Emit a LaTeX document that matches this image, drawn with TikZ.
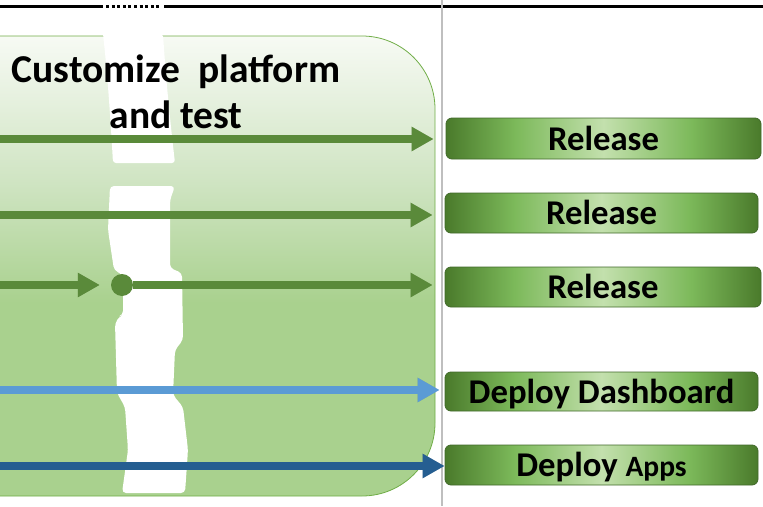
\documentclass[tikz,border=0pt]{standalone}
\usepackage{fontspec}
\setmainfont{Carlito}
\usetikzlibrary{arrows.meta}
\definecolor{boxB}{HTML}{A9D18E}
\definecolor{boxM}{HTML}{CFE4C2}
\definecolor{boxT}{HTML}{F7FAF4}
\definecolor{boxline}{HTML}{70AD47}
\definecolor{argreen}{HTML}{5A8A3A}
\definecolor{arlblue}{HTML}{5B9BD5}
\definecolor{ardblue}{HTML}{255E91}
\definecolor{reldk}{HTML}{4A7A2B}
\definecolor{relmd}{HTML}{7CB95A}
\definecolor{rellt}{HTML}{C3E0AD}
\definecolor{relline}{HTML}{41692A}
\pgfdeclareverticalshading{boxshade}{100bp}{color(0bp)=(boxB); color(46bp)=(boxB); color(59bp)=(boxM); color(75bp)=(boxT); color(100bp)=(boxT)}
\pgfdeclarehorizontalshading{relshade}{100bp}{color(0bp)=(reldk); color(25bp)=(reldk); color(36bp)=(relmd); color(50bp)=(rellt); color(64bp)=(relmd); color(75bp)=(reldk); color(100bp)=(reldk)}
\tikzset{
  relbox/.style={draw=relline, line width=0.8pt, rounded corners=6pt, shading=relshade,
    inner sep=0pt, font=\bfseries\fontsize{34.7}{40}\selectfont, text height=23pt, text depth=0pt},
  arrowline/.style={line width=8pt, -{Triangle[length=22pt,width=23pt]}},
  arrshadow/.style={line width=8pt, draw=black, opacity=0.12, -{Triangle[length=22pt,width=23pt]}}
}
\begin{document}
\begin{tikzpicture}[x=1pt,y=-1pt]
\useasboundingbox (0,0) rectangle (763,506);
% phase box
\path[draw=boxline, line width=0.8pt, shading=boxshade, rounded corners=73pt] (-150,36) rectangle (435,496);
% torn white stripe
\fill[white, rounded corners=3pt] (103,34) -- (163,34) .. controls (166,80) and (170,120) .. (175,163) -- (113,163) .. controls (110,110) and (107,70) .. (103,34) -- cycle;
\fill[white, rounded corners=4pt] (110,186) -- (175,186) -- (170,200) -- (170,268) -- (182,273) -- (183,340) -- (175,350) -- (173,395) -- (183,407) -- (188,450) -- (185,493) -- (122,493) -- (128,450) -- (125,407) -- (117,393) -- (115,323) -- (120,316) -- (123,315) -- (123,275) -- (114,270) -- (108,230) -- cycle;
% title
\node[font=\bfseries\fontsize{39.5}{46.5}\selectfont, align=center] (title) at (176,92) {Customize\ \ platform\\and test};
% top line and divider
\draw[line width=3pt] (0,6) -- (103,6);
\draw[line width=3pt, dash pattern=on 3pt off 2.6pt] (106,6) -- (161,6);
\draw[line width=3pt] (164,6) -- (763,6);
\draw[line width=2.5pt, black!25] (442,0) -- (442,506);
% boxes
\node[relbox, minimum width=315pt, minimum height=41pt] (r1) at (603.5,138.5) {Release};
\node[relbox, minimum width=313pt, minimum height=40pt] (r2) at (601.5,213) {Release};
\node[relbox, minimum width=316pt, minimum height=40pt] (r3) at (603,287) {Release};
\node[relbox, minimum width=313pt, minimum height=39pt] (dd) at (601.5,391.5) {Deploy Dashboard};
\node[relbox, minimum width=313pt, minimum height=40pt] (da) at (601.5,465) {Deploy {\fontsize{29.5}{32}\selectfont Apps}};
% start coordinates
\coordinate (s1) at (0,139);
\coordinate (s2) at (0,215);
\coordinate (s3) at (0,285);
\coordinate (s4) at (0,390);
\coordinate (s5) at (0,466);
\node[circle, fill=argreen, minimum size=22pt, inner sep=0pt] (dot) at (122,285) {};
% shadows
\begin{scope}[shift={(2,4)}]
\draw[arrshadow, shorten >=12pt] (s1) -- (s1 -| r1.west);
\draw[arrshadow, shorten >=12pt] (s2) -- (s2 -| r2.west);
\draw[arrshadow, shorten >=11pt] (s3) -- (dot);
\draw[arrshadow, shorten >=12pt] (dot) -- (dot -| r3.west);
\draw[arrshadow, shorten >=5pt] (s4) -- (s4 -| dd.west);
\draw[arrshadow, shorten >=0pt] (s5) -- (s5 -| da.west);
\end{scope}
% arrows
\draw[arrowline, argreen, shorten >=12pt] (s1) -- (s1 -| r1.west);
\draw[arrowline, argreen, shorten >=12pt] (s2) -- (s2 -| r2.west);
\draw[arrowline, argreen, shorten >=11pt] (s3) -- (dot);
\draw[arrowline, argreen, shorten >=12pt] (dot) -- (dot -| r3.west);
\draw[arrowline, arlblue, shorten >=5pt] (s4) -- (s4 -| dd.west);
\draw[arrowline, ardblue, shorten >=0pt] (s5) -- (s5 -| da.west);
\end{tikzpicture}
\end{document}
